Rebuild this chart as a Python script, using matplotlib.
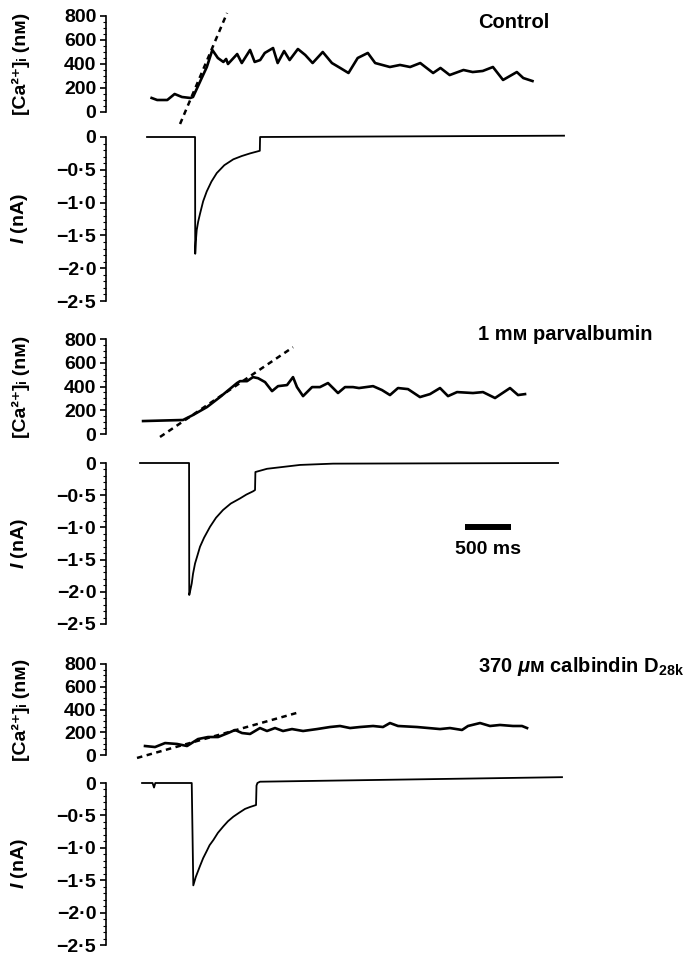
import matplotlib.pyplot as plt
from matplotlib.ticker import MultipleLocator, FuncFormatter

plt.rcParams['font.family'] = ['Liberation Sans', 'DejaVu Sans']
plt.rcParams['font.weight'] = 'bold'
plt.rcParams['axes.labelweight'] = 'bold'
plt.rcParams['mathtext.fontset'] = 'custom'
plt.rcParams['mathtext.rm'] = 'Liberation Sans:bold'
plt.rcParams['mathtext.bf'] = 'Liberation Sans:bold'
plt.rcParams['mathtext.it'] = 'Liberation Sans:italic:bold'

# time in ms (0 = start of control record)
# --- Control ---
ctrl_ca_t = [50, 110, 220, 300, 380, 470, 500, 600, 650, 710, 770, 830, 860, 880, 980,
             1030, 1120, 1170, 1230, 1280, 1370, 1420, 1490, 1550, 1640, 1720, 1800, 1910,
             2010, 2100, 2190, 2290, 2400, 2480, 2640, 2750, 2860, 2970, 3110, 3190, 3290,
             3440, 3540, 3650, 3760, 3870, 4020, 4090, 4190]
ctrl_ca = [117, 100, 100, 150, 125, 117, 125, 292, 375, 517, 450, 417, 442, 400, 483,
           408, 517, 417, 433, 492, 533, 408, 508, 433, 525, 475, 408, 500,
           408, 367, 325, 450, 492, 408, 375, 392, 375, 408, 325, 367, 308,
           350, 333, 342, 375, 267, 333, 283, 258]
ctrl_fit_t = [359, 870]
ctrl_fit = [-100, 825]
ctrl_i_t = [0, 522, 524, 530, 540, 556, 576, 610, 649, 700, 758, 840, 938, 1030, 1120,
            1226, 1229, 4533]
ctrl_i = [0, 0, -1.78, -1.60, -1.42, -1.29, -1.17, -0.98, -0.83, -0.68, -0.55, -0.43,
          -0.34, -0.29, -0.25, -0.21, 0.0, 0.02]

# --- 1 mM parvalbumin ---
parv_ca_t = [-43, 391, 500, 652, 793, 978, 1011, 1087, 1152, 1207, 1283, 1359, 1424, 1522,
             1587, 1630, 1696, 1794, 1880, 1967, 2022, 2076, 2152, 2239, 2304, 2457, 2554,
             2641, 2728, 2837, 2967, 3076, 3185, 3272, 3370, 3543, 3652, 3783, 3946, 4033, 4109]
parv_ca = [109, 118, 160, 227, 311, 429, 445, 445, 479, 470, 437, 361, 403, 412,
           479, 395, 319, 395, 395, 429, 387, 345, 395, 395, 387, 403, 370,
           328, 387, 378, 311, 336, 387, 319, 353, 345, 353, 303, 387, 328, 336]
parv_fit_t = [141, 1587]
parv_fit = [-25, 731]
parv_i_t = [-76, 457, 459, 470, 486, 500, 522, 545, 576, 620, 685, 750, 826, 910, 1011,
            1080, 1152, 1174, 1178, 1304, 1663, 2022, 4468]
parv_i = [0, 0, -2.05, -1.98, -1.87, -1.72, -1.56, -1.45, -1.30, -1.16, -0.99, -0.85,
          -0.73, -0.63, -0.55, -0.49, -0.44, -0.42, -0.14, -0.09, -0.03, -0.01, 0.0]

# --- 370 uM calbindin D28k ---
calb_ca_t = [-22, 87, 196, 326, 435, 554, 663, 772, 880, 957, 1033, 1120, 1228, 1304, 1391,
             1478, 1576, 1696, 1848, 1989, 2098, 2207, 2315, 2457, 2565, 2641, 2728, 2935,
             3185, 3293, 3424, 3489, 3620, 3728, 3837, 3978, 4076, 4131]
calb_ca = [79, 70, 105, 97, 79, 140, 158, 158, 193, 220, 193, 185, 237, 211, 237,
           211, 228, 211, 228, 246, 255, 237, 246, 255, 246, 281, 255, 246,
           228, 237, 220, 255, 281, 255, 264, 255, 255, 237]
calb_fit_t = [-109, 1663]
calb_fit = [-26, 378]
calb_i_t = [-54, 60, 76, 90, 486, 503, 530, 576, 610, 649, 680, 721, 770, 829, 880, 938,
            1000, 1065, 1120, 1185, 1190, 1200, 1228, 4511]
calb_i = [0, 0, -0.07, 0, 0, -1.58, -1.45, -1.28, -1.16, -1.05, -0.96, -0.88, -0.77,
          -0.67, -0.59, -0.52, -0.46, -0.40, -0.37, -0.34, -0.04, 0.0, 0.02, 0.09]

titles = ['Control', '1 m\u1d0d parvalbumin', '370 $\\mu$\u1d0d calbindin D$_{\\mathbf{28k}}$']
ca_label = '[Ca\u00b2\u207a]\u1d62 (n\u1d0d)'

W, H = 685, 955
AX_L, AX_R = 106, 600
XLIM = (-446, 4924)
# (ca top, ca bottom, I top, I bottom, title y) in pixels
rows = [(16, 112, 137, 301, 23), (339, 434, 463, 624, 335), (664, 755, 783, 945, 667)]


def dec(v, pos):
    if abs(v) < 1e-9:
        return '0'
    return ('\u2212' if v < 0 else '') + ('%.1f' % abs(v)).replace('.', '\u00b7')


def make_ax(fig, top, bot):
    ax = fig.add_axes([AX_L / W, 1 - bot / H, (AX_R - AX_L) / W, (bot - top) / H])
    for s in ['top', 'right', 'bottom']:
        ax.spines[s].set_visible(False)
    ax.spines['left'].set_linewidth(1.2)
    ax.set_xticks([])
    ax.set_xlim(*XLIM)
    ax.tick_params(axis='y', which='major', length=4, width=1.2, labelsize=14, pad=3)
    ax.tick_params(axis='y', which='minor', length=2, width=0.8)
    ax.patch.set_alpha(0)
    return ax


fig = plt.figure(figsize=(W / 100, H / 100), dpi=100)

data = [
    (ctrl_ca_t, ctrl_ca, ctrl_fit_t, ctrl_fit, ctrl_i_t, ctrl_i),
    (parv_ca_t, parv_ca, parv_fit_t, parv_fit, parv_i_t, parv_i),
    (calb_ca_t, calb_ca, calb_fit_t, calb_fit, calb_i_t, calb_i),
]

for k, (row, d) in enumerate(zip(rows, data)):
    ca_t, ca, fit_t, fit, i_t, cur = d
    ca_top, ca_bot, i_top, i_bot, ty = row

    ax1 = make_ax(fig, ca_top, ca_bot)
    ax1.plot(ca_t, ca, color='k', lw=1.9, clip_on=False)
    ax1.plot(fit_t, fit, color='k', lw=1.8, dashes=(2.2, 1.8), clip_on=False)
    ax1.set_ylim(0, 800)
    ax1.yaxis.set_major_locator(MultipleLocator(200))
    ax1.yaxis.set_minor_locator(MultipleLocator(50))
    ax1.set_ylabel(ca_label, fontsize=14, fontweight='bold')
    ax1.yaxis.set_label_coords(-0.154, 0.5)

    ax2 = make_ax(fig, i_top, i_bot)
    ax2.plot(i_t, cur, color='k', lw=1.3, clip_on=False)
    ax2.set_ylim(-2.5, 0)
    ax2.yaxis.set_major_locator(MultipleLocator(0.5))
    ax2.yaxis.set_minor_locator(MultipleLocator(0.1))
    ax2.yaxis.set_major_formatter(FuncFormatter(dec))
    ax2.set_ylabel('$I$ (nA)', fontsize=14, fontweight='bold')
    ax2.yaxis.set_label_coords(-0.154, 0.5)

    fig.text(478 / W, 1 - ty / H, titles[k], fontsize=14.5, ha='left', va='center')

    if k == 1:
        # 500 ms scale bar
        ax2.plot([3457, 3957], [-0.99, -0.99], color='k', lw=4.3, solid_capstyle='butt')
        ax2.text(3707, -1.35, '500 ms', fontsize=14, ha='center', va='center')

fig.savefig('out.png', dpi=100)
